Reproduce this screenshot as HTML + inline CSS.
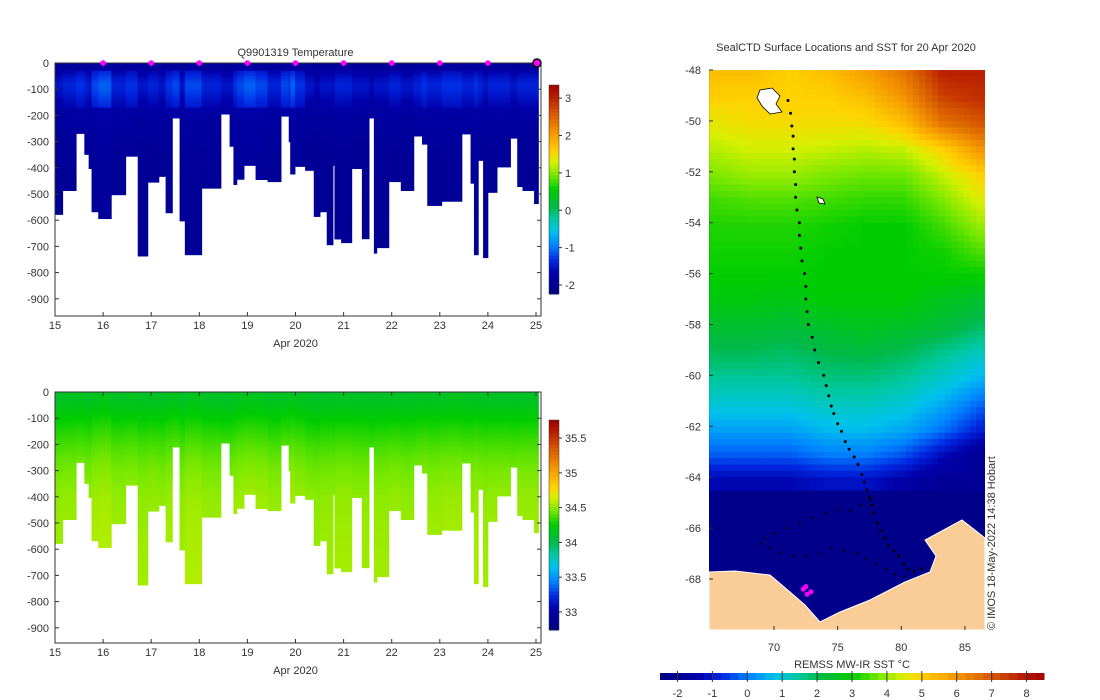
<!DOCTYPE html>
<html><head><meta charset="utf-8">
<style>
body{margin:0;background:#fff;}
svg{display:block;font-family:"Liberation Sans","DejaVu Sans",sans-serif;}
text{fill:#333;font-size:11px;}
</style></head>
<body>
<svg id="fig" width="1100" height="700" viewBox="0 0 1100 700">
  <g id="top"></g>
  <g id="bot"></g>
  <g id="map"></g>
</svg>
<script>
// ---- profile section data ----
const profileStartDays=[15.00,15.16,15.44,15.61,15.70,15.76,15.90,16.17,16.47,16.72,16.93,17.16,17.30,17.44,17.59,17.70,18.05,18.45,18.63,18.71,18.78,18.93,19.17,19.42,19.70,19.86,19.89,19.99,20.20,20.38,20.51,20.65,20.78,20.81,20.95,21.17,21.38,21.53,21.63,21.69,21.94,22.19,22.46,22.63,22.74,23.04,23.46,23.64,23.71,23.80,23.90,24.00,24.19,24.47,24.61,24.72,24.96];
const profileEndDay=25.05;
const profileMaxDepth=[578,487,269,349,403,568,594,503,356,737,455,433,572,210,603,732,478,195,318,464,444,391,445,453,203,301,424,395,410,586,568,694,391,672,686,403,671,210,726,705,453,487,279,310,544,528,271,459,732,372,743,494,397,287,472,487,537];
const profileTempOffset=[0,0.1,0.2,0.1,0,0.3,0.4,0.1,0.2,0,0.1,0,0.2,0.3,0,0.3,0.1,0,0,0.2,0.3,0.4,0.3,0.1,0.3,0.2,0.4,0.2,0,-0.1,0,0,-0.1,0.1,0.1,0,0,-0.1,0,0,0.1,0,0.1,0.2,0.1,0.2,0.1,0.1,0.2,0.1,0,0.1,0.1,0,0.1,0.1,0.1];
const depthLevels=[0,20,50,80,110,150,200,260,320,400,500,700,800];
const meanTemp=[-1.92,-1.85,-1.65,-1.5,-1.55,-1.7,-1.82,-1.88,-1.92,-1.95,-1.97,-1.98,-1.98];
const meanSal=[34.1,34.12,34.15,34.2,34.25,34.3,34.36,34.42,34.46,34.5,34.52,34.54,34.55];
const depthTicks=[0,-100,-200,-300,-400,-500,-600,-700,-800,-900];
const dayTicks=[15,16,17,18,19,20,21,22,23,24,25];
const markerDays=[16,17,18,19,20,21,22,23,24];
const tempCbTicks=[3,2,1,0,-1,-2];
const salCbTicks=[35.5,35,34.5,34,33.5,33];
// ---- SST map data ----
const sstLats=[-48,-49,-50,-51,-52,-53,-54,-55,-56,-57,-58,-59,-60,-61,-62,-63,-64];
const sstLons=[65,68,71,74,77,80,83,86];
const sstGrid=[
[5.3,5.3,5.0,5.3,5.8,6.5,7.8,7.8],
[5,5,5,5,5.3,6,7.3,7.6],
[4.6,4.8,4.8,4.8,4.8,5.3,6.5,7],
[4.2,4.4,4.4,4.3,4.2,4.3,5,6],
[3.8,4,4,3.8,3.7,3.7,4.3,5],
[3.4,3.5,3.5,3.4,3.3,3.3,3.8,4.5],
[3.2,3.2,3.2,3.1,3,3,3.4,4],
[3.1,3.1,3.1,3,3,3,3.1,3.5],
[3,3,3,3,3,3,3,3],
[2.8,2.8,2.7,2.9,2.9,2.9,2.6,2.4],
[2.4,2.4,2.3,2.5,2.6,2.5,2.3,1.9],
[2,2,1.9,2.1,2.2,2,1.6,1.2],
[1.5,1.5,1.5,1.7,1.7,1.5,1.1,0.6],
[1,1,1,1.2,1.2,1,0.5,-0.2],
[0.4,0.4,0.4,0.7,0.7,0.5,-0.1,-0.9],
[-0.3,-0.3,-0.3,0,0,-0.4,-1.2,-1.9],
[-1.3,-1.3,-1.3,-1.1,-1.1,-1.5,-1.9,-1.9]];
const trackLons=[71.1,71.3,71.4,71.5,71.5,71.6,71.6,71.7,71.7,71.8,72.0,72.0,72.1,72.2,72.4,72.5,72.5,72.6,72.7,73.0,73.2,73.5,73.9,74.1,74.3,74.5,74.7,75.0,75.3,75.6,75.9,76.3,76.6,76.9,77.1,77.3,77.5,77.7,77.8,78.1,78.4,78.7,79.0,79.4,79.8,80.2,80.5,81.0,81.6];
const trackLats=[-49.2,-49.7,-50.2,-50.6,-51.1,-51.5,-52.0,-52.5,-53.0,-53.5,-54.0,-54.5,-55.0,-55.5,-56.0,-56.5,-57.0,-57.5,-58.0,-58.5,-59.0,-59.5,-60.0,-60.4,-60.8,-61.2,-61.5,-61.9,-62.2,-62.6,-62.9,-63.2,-63.5,-63.9,-64.2,-64.5,-64.8,-65.1,-65.4,-65.8,-66.1,-66.4,-66.7,-66.9,-67.1,-67.4,-67.6,-67.7,-67.6];
const loopLons=[77.6,76.8,76.0,75.0,74.0,73.0,72.0,71.0,70.0,69.3,69.0,69.6,70.5,71.5,72.5,73.5,74.5,75.5,76.5,77.2,78.0,78.8,79.5,80.2];
const loopLats=[-64.9,-65.1,-65.3,-65.3,-65.4,-65.6,-65.8,-66.0,-66.2,-66.4,-66.6,-66.8,-67.0,-67.1,-67.1,-67.0,-66.8,-66.9,-67.0,-67.2,-67.4,-67.6,-67.8,-67.9];
const mapLatTicks=[-48,-50,-52,-54,-56,-58,-60,-62,-64,-66,-68];
const mapLonTicks=[70,75,80,85];
const sstCbTicks=[-2,-1,0,1,2,3,4,5,6,7,8];

const NS='http://www.w3.org/2000/svg';
function mk(parent,tag,attrs,txt){const e=document.createElementNS(NS,tag);for(const k in attrs)e.setAttribute(k,attrs[k]);if(txt!==undefined)e.textContent=txt;parent.appendChild(e);return e;}
const stops=[[0,[0,0,128]],[0.1,[0,0,170]],[0.16,[0,40,225]],[0.23,[0,130,255]],[0.3,[0,195,235]],[0.36,[0,200,160]],[0.42,[0,185,70]],[0.5,[0,205,0]],[0.57,[120,232,0]],[0.63,[215,240,0]],[0.68,[255,210,0]],[0.77,[245,150,0]],[0.86,[215,90,0]],[0.94,[185,30,0]],[1,[160,0,0]]];
function cmap(t){t=Math.max(0,Math.min(1,t));for(let i=1;i<stops.length;i++){if(t<=stops[i][0]){const a=stops[i-1],b=stops[i];const f=(t-a[0])/(b[0]-a[0]);const c=a[1].map((v,j)=>Math.round(v+(b[1][j]-v)*f));return 'rgb('+c.join(',')+')';}}return 'rgb(160,0,0)';}
function interp(xs,ys,x){if(x<=xs[0])return ys[0];for(let i=1;i<xs.length;i++){if(x<=xs[i]){const f=(x-xs[i-1])/(xs[i]-xs[i-1]);return ys[i-1]+(ys[i]-ys[i-1])*f;}}return ys[ys.length-1];}

function section(g,y0,yBottom,cbTop,cbBot,vmin,vmax,valsFn,cbTicks,title,markers){
  const X0=55,X1=541;
  const xDay=d=>X0+(d-15)*48.1;
  const yD=d=>y0+d*0.262;
  for(let i=0;i<profileStartDays.length;i++){
    const xa=xDay(profileStartDays[i]);const xb=xDay(i+1<profileStartDays.length?profileStartDays[i+1]:profileEndDay);
    for(let d=0;d<profileMaxDepth[i];d+=10){
      const dd=Math.min(10,profileMaxDepth[i]-d);
      const v=valsFn(i,d+5);
      const r=mk(g,'rect',{x:xa.toFixed(2),y:yD(d).toFixed(2),width:(xb-xa+0.4).toFixed(2),height:(dd*0.262+0.4).toFixed(2),fill:cmap((v-vmin)/(vmax-vmin))});
      
      
    }
  }
  const fr=mk(g,'rect',{x:X0,y:y0,width:X1-X0,height:yBottom-y0,fill:'none',stroke:'#333','stroke-width':1});
  
  
  depthTicks.forEach(t=>{const y=yD(-t);mk(g,'line',{x1:X0,x2:X0+4,y1:y,y2:y,stroke:'#333'});mk(g,'line',{x1:X1-4,x2:X1,y1:y,y2:y,stroke:'#333'});
    const tx=mk(g,'text',{x:X0-6,y:y+4,'text-anchor':'end'},String(t));
    
    });
  dayTicks.forEach(t=>{const x=xDay(t);mk(g,'line',{x1:x,x2:x,y1:yBottom,y2:yBottom-4,stroke:'#333'});mk(g,'line',{x1:x,x2:x,y1:y0,y2:y0+4,stroke:'#333'});
    const tx=mk(g,'text',{x:x,y:yBottom+13,'text-anchor':'middle'},String(t));
    
    });
  const dl=mk(g,'text',{x:xDay(20),y:yBottom+31,'text-anchor':'middle'},'Apr 2020');
  
  
  if(title){const tt=mk(g,'text',{x:xDay(20),y:y0-7,'text-anchor':'middle'},title);
    
    }
  if(markers){markerDays.forEach(d=>{const m=mk(g,'circle',{cx:xDay(d),cy:y0,r:2.8,fill:'#ff00ff'});
      
      });
    const lm=mk(g,'circle',{cx:xDay(25.02),cy:y0,r:4,fill:'#ff00ff',stroke:'#000','stroke-width':1.5});
    
    }
  const cbx=549,cbw=10,n=60;
  for(let k=0;k<n;k++){const y=cbTop+(cbBot-cbTop)*k/n;mk(g,'rect',{x:cbx,y:y,width:cbw,height:(cbBot-cbTop)/n+0.5,fill:cmap(1-(k+0.5)/n)});}
  const cb=mk(g,'rect',{x:cbx,y:cbTop,width:cbw,height:cbBot-cbTop,fill:'none',stroke:'#333','stroke-width':0.5});
  
  
  cbTicks.forEach(t=>{const y=cbBot-(t-vmin)/(vmax-vmin)*(cbBot-cbTop);mk(g,'line',{x1:cbx+cbw,x2:cbx+cbw+3,y1:y,y2:y,stroke:'#333'});
    const tx=mk(g,'text',{x:cbx+cbw+6,y:y+4},String(t));
    
    });
}
section(document.getElementById('top'),63,316,85,294,-2.24,3.35,(i,d)=>interp(depthLevels,meanTemp,d)+(d>30&&d<170?profileTempOffset[i]:profileTempOffset[i]*0.2),tempCbTicks,'Q9901319  Temperature',true);
section(document.getElementById('bot'),392,643,420,630,32.74,35.76,(i,d)=>interp(depthLevels,meanSal,d)+profileTempOffset[i]*0.1,salCbTicks,null,false);

(function(){
  const g=document.getElementById('map');
  const MX0=709,MX1=985,MY0=70,MY1=630;
  const xL=l=>774+(l-70)*12.73, yL=l=>70+(-48-l)*25.45;
  const vmin=-2.5,vmax=8.5;
  const ice=mk(g,'rect',{x:MX0,y:MY0,width:MX1-MX0,height:MY1-MY0,fill:'#00008a'});
  
  
  const dLa=0.25,dLo=0.5;
  const cellW=12.73*dLo,cellH=25.45*dLa;
  for(let la=-48;la>-64.4;la-=dLa){
    for(let lo=64.9;lo<86.6;lo+=dLo){
      const ri=Math.min(sstLats.length-2,Math.max(0,Math.floor(-48-la)));
      const fr=Math.max(0,Math.min(1,(-48-la)-ri));
      const ci=Math.min(sstLons.length-2,Math.max(0,Math.floor((lo-65)/3)));
      const fc=Math.max(0,Math.min(1,(lo-65)/3-ci));
      const a=sstGrid[ri][ci]*(1-fc)+sstGrid[ri][ci+1]*fc;
      const b=sstGrid[ri+1][ci]*(1-fc)+sstGrid[ri+1][ci+1]*fc;
      const v=a*(1-fr)+b*fr;
      const x=xL(lo),y=yL(la);
      const r=mk(g,'rect',{x:Math.max(MX0,x).toFixed(1),y:Math.max(MY0,y).toFixed(1),width:(cellW+0.5).toFixed(1),height:(cellH+0.5).toFixed(1),fill:cmap((v-vmin)/(vmax-vmin))});
      
      
    }
  }
  mk(g,'rect',{x:MX1,y:MY0-2,width:40,height:MY1-MY0+4,fill:'#fff'});
  const land=mk(g,'polygon',{points:'709,572 735,571 770,575 790,592 805,605 820,622 840,612 870,600 905,582 930,572 936,556 925,540 962,520 985,538 985,630 709,630',fill:'#f9cc98',stroke:'#fff','stroke-width':1});
  
  
  const k1=mk(g,'polygon',{points:'760,90 772,88 780,96 776,104 782,112 770,114 762,106 757,98',fill:'#fff',stroke:'#000','stroke-width':0.8});
  
  
  const k2=mk(g,'polygon',{points:'817,197 823,199 825,204 819,203',fill:'#fff',stroke:'#000','stroke-width':0.8});
  
  
  trackLons.forEach((lo,i)=>{const c=mk(g,'circle',{cx:xL(lo),cy:yL(trackLats[i]),r:1.5,fill:'#000'});
    
    });
  loopLons.forEach((lo,i)=>{const c=mk(g,'circle',{cx:xL(lo),cy:yL(loopLats[i]),r:1.2,fill:'#000'});
    
    });
  [[72.3,-68.4],[72.6,-68.6],[72.9,-68.5],[72.5,-68.3]].forEach(p=>{const c=mk(g,'circle',{cx:xL(p[0]),cy:yL(p[1]),r:2.5,fill:'#ff00ff'});
    
    });
  mapLatTicks.forEach(t=>{const y=yL(t);mk(g,'line',{x1:MX0,x2:MX0+4,y1:y,y2:y,stroke:'#333'});const tx=mk(g,'text',{x:MX0-8,y:y+4,'text-anchor':'end'},String(t));
    
    });
  mapLonTicks.forEach(t=>{const x=xL(t);mk(g,'line',{x1:x,x2:x,y1:MY1,y2:MY1-4,stroke:'#333'});const tx=mk(g,'text',{x:x,y:MY1+21,'text-anchor':'middle'},String(t));
    
    });
  const mt=mk(g,'text',{x:846,y:51,'text-anchor':'middle'},'SealCTD Surface Locations and SST for 20 Apr 2020');
  
  
  const cp=mk(g,'text',{x:0,y:0,transform:'translate(995,630) rotate(-90)','font-size':'9.5'},'© IMOS 18-May-2022 14:38 Hobart');
  
  
  const cx0=660,cx1=1044,cy=673,ch=7,n=44;
  for(let k=0;k<n;k++){mk(g,'rect',{x:cx0+(cx1-cx0)*k/n,y:cy,width:(cx1-cx0)/n+0.5,height:ch,fill:cmap((k+0.5)/n)});}
  const scb=mk(g,'rect',{x:cx0,y:cy,width:cx1-cx0,height:ch,fill:'none'});
  
  
  sstCbTicks.forEach(t=>{const x=cx0+(t-vmin)/(vmax-vmin)*(cx1-cx0);mk(g,'line',{x1:x,x2:x,y1:cy-2,y2:cy+ch+2,stroke:'#333'});const tx=mk(g,'text',{x:x,y:cy+24,'text-anchor':'middle'},String(t));
    
    });
  const st=mk(g,'text',{x:852,y:668,'text-anchor':'middle'},'REMSS MW-IR SST °C');
  
  
})();
</script>
</body></html>
